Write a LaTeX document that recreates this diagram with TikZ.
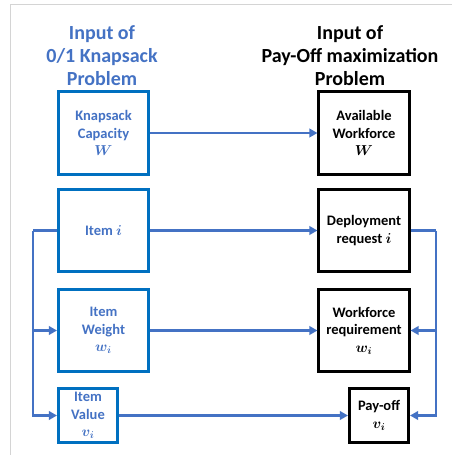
\documentclass[tikz,border=0pt]{standalone}
\usepackage{fontspec}
\setmainfont{Carlito}
\usetikzlibrary{arrows.meta}
\definecolor{boxblue}{HTML}{0070C0}
\definecolor{lineblue}{HTML}{4472C4}
\definecolor{framegray}{HTML}{D4D4D4}
\begin{document}
\begin{tikzpicture}[x=1pt,y=-1pt,
  boxtext/.style={font=\fontsize{14.5}{17.5}\selectfont\bfseries\boldmath, align=center, inner sep=0pt, line width=2.6pt},
  lbox/.style={boxtext, draw=boxblue, text=lineblue},
  rbox/.style={boxtext, draw=black, text=black},
  bigbox/.style={minimum width=90.5pt, minimum height=82.5pt},
  smallbox/.style={minimum width=59.5pt, minimum height=54.5pt},
  titletext/.style={font=\fontsize{20}{23}\selectfont\bfseries, align=center, inner sep=0pt},
  conn/.style={draw=lineblue, line width=2.2pt},
  arr/.style={conn, -{Triangle[length=8pt,width=8.5pt]}}
]
\useasboundingbox (0,0) rectangle (452,455);
\fill[white] (0,0) rectangle (452,455);
% frame
\coordinate (ftl) at (10,4.5);
\coordinate (ftr) at (452,4.5);
\coordinate (fbl) at (10,455);
\draw[framegray, line width=1pt] (ftr) -- (ftl) -- (fbl);

% titles
\node[titletext, text=lineblue] (ltitle) at (102,56) {Input of\\0/1 Knapsack\\Problem};
\node[titletext, text=black] (rtitle) at (350,56) {Input of\\Pay-Off maximization\\Problem};

% left boxes
\node[lbox, bigbox] (kc) at (103.5,133) {Knapsack\\Capacity\\$W$};
\node[lbox, bigbox] (item) at (103.5,230.5) {Item $i$};
\node[lbox, bigbox] (wt) at (103.5,330.5) {Item\\Weight\\$w_i$};
\node[lbox, smallbox] (val) at (88,415.5) {Item\\Value\\$v_i$};

% right boxes
\node[rbox, bigbox] (aw) at (364,133) {Available\\Workforce\\$W$};
\node[rbox, bigbox] (dep) at (364,230.5) {Deployment\\request $i$};
\node[rbox, bigbox] (wreq) at (364,330.5) {Workforce\\requirement\\$w_i$};
\node[rbox, smallbox] (pay) at (379,415.5) {Pay-off\\$v_i$};

% straight connectors
\draw[arr] (kc.east) -- (aw.west);
\draw[arr] (item.east) -- (dep.west);
\draw[arr] (wt.east) -- (wreq.west);
\draw[arr] (val.east) -- (pay.west);

% left bus
\coordinate (lb1) at (33,230.5);
\coordinate (lb2) at (33,330.5);
\draw[conn] (item.west) -- (lb1);
\draw[arr] (lb1) |- (val.west);
\draw[arr] (lb2) -- (wt.west);

% right bus
\coordinate (rb1) at (436,230.5);
\coordinate (rb2) at (436,330.5);
\draw[conn] (dep.east) -- (rb1);
\draw[arr] (rb1) |- (pay.east);
\draw[arr] (rb2) -- (wreq.east);
\end{tikzpicture}
\end{document}
